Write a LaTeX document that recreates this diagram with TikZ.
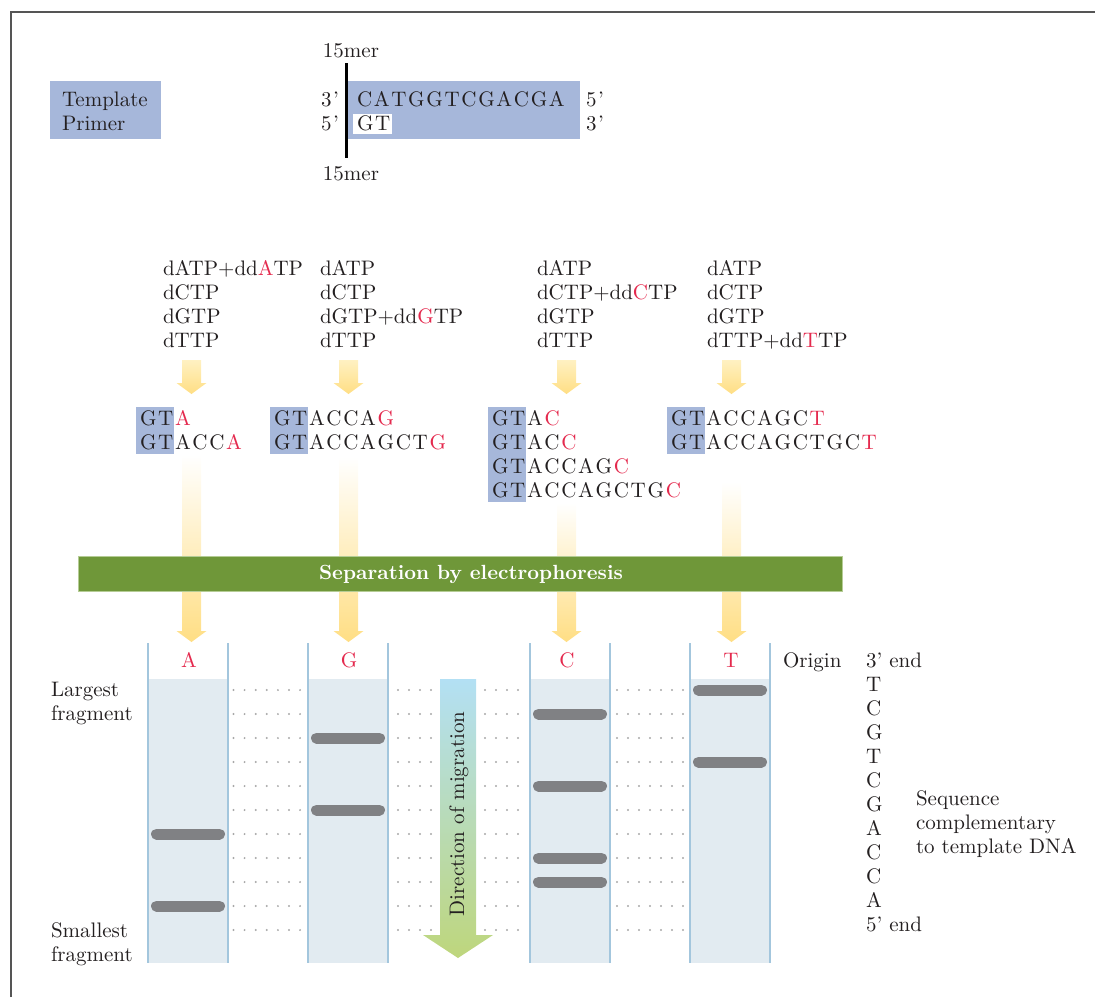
\documentclass[tikz,border=0pt]{standalone}
\usepackage{fontspec}
\setmainfont{lmroman10-regular}[Extension=.otf,BoldFont=lmroman10-bold,ItalicFont=lmroman10-italic,BoldItalicFont=lmroman10-bolditalic]
\definecolor{bluebox}{HTML}{A6B7DA}
\definecolor{redc}{HTML}{E42A4E}
\definecolor{greenbar}{HTML}{6F9739}
\definecolor{greenedge}{HTML}{B5CC95}
\definecolor{lanefill}{HTML}{E2EBF1}
\definecolor{laneline}{HTML}{A3C6DD}
\definecolor{bandc}{HTML}{808184}
\definecolor{yel}{HTML}{FFDE84}
\definecolor{yelsmtop}{HTML}{FFF1C2}
\definecolor{migtop}{HTML}{B3E0F4}
\definecolor{migbot}{HTML}{BED67C}
\definecolor{framec}{HTML}{555555}
\definecolor{dotc}{HTML}{A8A8A8}
\definecolor{txt}{HTML}{231F20}
\newcommand\lspk{1.7pt}
\def\lspx#1{\ifx\relax#1\else#1\kern\lspk\expandafter\lspx\fi}
% \sq{black part}{red last letter}
\newcommand\sq[2]{{\fontsize{21}{24}\selectfont\lspx#1\relax\textcolor{redc}{#2}}}
\newcommand\rd[1]{\textcolor{redc}{#1}}
\begin{document}
\begin{tikzpicture}[x=1pt,y=-1pt,
  every node/.style={inner sep=0pt,outer sep=0pt,font=\fontsize{21}{24}\selectfont,text=txt},
  lbl/.style={anchor=base west},
  clbl/.style={anchor=base},
  bandbar/.style={line width=11pt,line cap=round,draw=bandc},
  laneedge/.style={draw=laneline,line width=1.4pt},
  seqbox/.style={fill=bluebox},
  smallarrow/.style={top color=yelsmtop,bottom color=yel,draw=none},
  bigarrow/.style={top color=white,bottom color=yel,draw=none}
]
\useasboundingbox (0,0) rectangle (1095,997);
% frame
\draw[framec,line width=2pt] (11,997) -- (11,12) -- (1095,12);

% ---------- top: template / primer ----------
\fill[seqbox] (50,81) rectangle (161,139);
\node[lbl] (tmpl) at (62,106) {Template};
\node[lbl] (prim) at (62,130) {Primer};

\fill[seqbox] (347,81) rectangle (580,139);
\fill[white] (353,114) rectangle (392,134);
\draw[black,line width=3pt] (346,63) -- (346,158);
\node[clbl] (mertop) at (351,57) {15mer};
\node[clbl] (merbot) at (351,180) {15mer};
\node[lbl] (l3) at (321,106) {\sq{3'}{}};
\node[lbl] (l5) at (321,130) {\sq{5'}{}};
\node[lbl] (tseq) at (357,106) {\sq{CATGGTCGACGA}{}};
\node[lbl] (pseq) at (357,130) {\sq{GT}{}};
\node[lbl] (r5) at (586,106) {\sq{5'}{}};
\node[lbl] (r3) at (586,130) {\sq{3'}{}};

% ---------- nucleotide mixes ----------
\node[lbl] (a1) at (163,275) {dATP+dd\rd{A}TP};
\node[lbl] (a2) at (163,299) {dCTP};
\node[lbl] (a3) at (163,323) {dGTP};
\node[lbl] (a4) at (163,347) {dTTP};
\node[lbl] (g1) at (320,275) {dATP};
\node[lbl] (g2) at (320,299) {dCTP};
\node[lbl] (g3) at (320,323) {dGTP+dd\rd{G}TP};
\node[lbl] (g4) at (320,347) {dTTP};
\node[lbl] (c1) at (537,275) {dATP};
\node[lbl] (c2) at (537,299) {dCTP+dd\rd{C}TP};
\node[lbl] (c3) at (537,323) {dGTP};
\node[lbl] (c4) at (537,347) {dTTP};
\node[lbl] (t1) at (707,275) {dATP};
\node[lbl] (t2) at (707,299) {dCTP};
\node[lbl] (t3) at (707,323) {dGTP};
\node[lbl] (t4) at (707,347) {dTTP+dd\rd{T}TP};

% small arrows
\foreach \cx in {191.5,348.5,566.5,731.5}{
  \shade[smallarrow] (\cx-9.5,360) -- (\cx+9.5,360) -- (\cx+9.5,383) -- (\cx+15,383)
     -- (\cx,394) -- (\cx-15,383) -- (\cx-9.5,383) -- cycle;
}

% ---------- synthesized fragments ----------
\fill[seqbox] (136,407) rectangle (174,454);
\fill[seqbox] (270,407) rectangle (308,454);
\fill[seqbox] (488,407) rectangle (526,502);
\fill[seqbox] (667,407) rectangle (705,454);

% big arrows (behind the bar)
\shade[bigarrow] (182,455) -- (201,455) -- (201,631) -- (206.5,631) -- (191.5,642) -- (176.5,631) -- (182,631) -- cycle;
\shade[bigarrow] (339,457) -- (358,457) -- (358,631) -- (363.5,631) -- (348.5,642) -- (333.5,631) -- (339,631) -- cycle;
\shade[bigarrow] (557,503) -- (576,503) -- (576,631) -- (581.5,631) -- (566.5,642) -- (551.5,631) -- (557,631) -- cycle;
\shade[bigarrow] (722,482) -- (741,482) -- (741,631) -- (746.5,631) -- (731.5,642) -- (716.5,631) -- (722,631) -- cycle;

\node[lbl] (sa1) at (140,425) {\sq{GT}{A}};
\node[lbl] (sa2) at (140,449) {\sq{GTACC}{A}};
\node[lbl] (sg1) at (274,425) {\sq{GTACCA}{G}};
\node[lbl] (sg2) at (274,449) {\sq{GTACCAGCT}{G}};
\node[lbl] (sc1) at (492,425) {\sq{GTA}{C}};
\node[lbl] (sc2) at (492,449) {\sq{GTAC}{C}};
\node[lbl] (sc3) at (492,473) {\sq{GTACCAG}{C}};
\node[lbl] (sc4) at (492,497) {\sq{GTACCAGCTG}{C}};
\node[lbl] (st1) at (671,425) {\sq{GTACCAGC}{T}};
\node[lbl] (st2) at (671,449) {\sq{GTACCAGCTGC}{T}};

% ---------- separation bar ----------
\fill[greenbar,draw=greenedge,line width=1pt] (78,556) rectangle (842,591);
\node[anchor=center,text=white,font=\fontsize{20.5}{24}\selectfont\bfseries] (sep) at (471,574) {Separation by electrophoresis};

% ---------- gel ----------
\foreach \lx in {148,308,530,690}{
  \fill[lanefill] (\lx,679) rectangle (\lx+80,963);
  \draw[laneedge] (\lx,643) -- (\lx,963);
  \draw[laneedge] (\lx+80,643) -- (\lx+80,963);
}
\node[clbl,text=redc] (la) at (189,667) {A};
\node[clbl,text=redc] (lg) at (349,667) {G};
\node[clbl,text=redc] (lc) at (567,667) {C};
\node[clbl,text=redc] (lt) at (731,667) {T};

% dotted rows
\foreach \r in {0,...,10}{
  \foreach \dx in {233.5,244.6,255.7,266.8,277.9,289,300.1,398,409,420,431,485,496,507,518,617,628,639,650,661,672,683}{
    \fill[dotc] (\dx,{690+24*\r}) circle (1.1pt);
  }
}

% bands
\draw[bandbar] (156.5,834) -- (219.5,834);
\draw[bandbar] (156.5,906) -- (219.5,906);
\draw[bandbar] (316.5,738) -- (379.5,738);
\draw[bandbar] (316.5,810) -- (379.5,810);
\draw[bandbar] (538.5,714) -- (601.5,714);
\draw[bandbar] (538.5,786) -- (601.5,786);
\draw[bandbar] (538.5,858) -- (601.5,858);
\draw[bandbar] (538.5,882) -- (601.5,882);
\draw[bandbar] (698.5,690) -- (761.5,690);
\draw[bandbar] (698.5,762) -- (761.5,762);

% migration arrow
\shade[top color=migtop,bottom color=migbot] (440,679) -- (476,679) -- (476,935) -- (493,935) -- (458,958) -- (423,935) -- (440,935) -- cycle;
\node[rotate=90,anchor=center] (dir) at (459,814) {Direction of migration};

% side labels
\node[lbl] (lg1) at (51,696) {Largest};
\node[lbl] (lg2) at (51,720) {fragment};
\node[lbl] (sm1) at (51,937) {Smallest};
\node[lbl] (sm2) at (51,961) {fragment};
\node[lbl] (orig) at (783,667) {Origin};
\node[lbl] (e3) at (866,667) {3' end};
\node[lbl] (q1) at (866,691) {T};
\node[lbl] (q2) at (866,715) {C};
\node[lbl] (q3) at (866,739) {G};
\node[lbl] (q4) at (866,763) {T};
\node[lbl] (q5) at (866,787) {C};
\node[lbl] (q6) at (866,811) {G};
\node[lbl] (q7) at (866,835) {A};
\node[lbl] (q8) at (866,859) {C};
\node[lbl] (q9) at (866,883) {C};
\node[lbl] (q10) at (866,907) {A};
\node[lbl] (e5) at (866,931) {5' end};
\node[lbl] (sqa) at (916,805) {Sequence};
\node[lbl] (sqb) at (916,829) {complementary};
\node[lbl] (sqc) at (916,853) {to template DNA};
\end{tikzpicture}
\end{document}
